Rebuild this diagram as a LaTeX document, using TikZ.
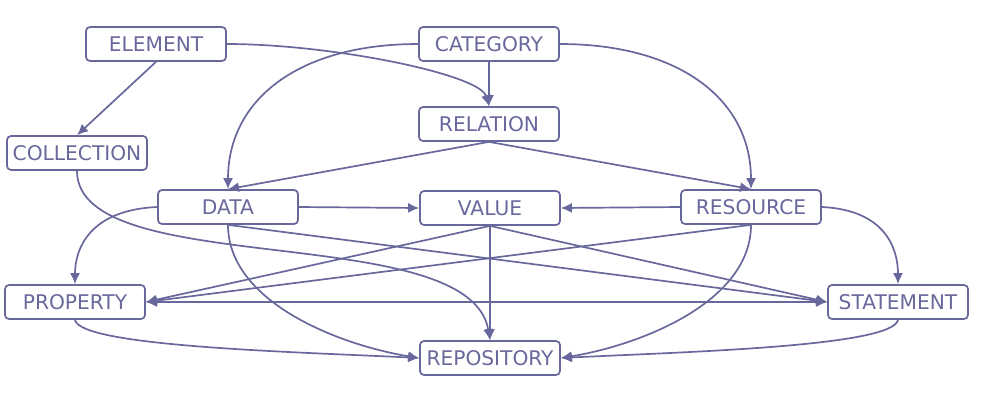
\documentclass[tikz,border=0pt]{standalone}
\usepackage{fontspec}
\setmainfont{DejaVu Sans}
\usetikzlibrary{arrows.meta}

\definecolor{slate}{RGB}{104,104,156}
\tikzstyle{term}=[draw=slate, text=slate, line width=1.7pt, rounded corners=4pt, minimum width=140pt, minimum height=34pt, inner sep=0pt, font=\fontsize{20.2}{23}\selectfont]
\tikzstyle{link}=[draw=slate, line width=1.7pt, ->]

\begin{document}
\begin{tikzpicture}[x=1pt, y=-1pt, >={Latex[length=11pt,width=10pt]}]

\useasboundingbox (0,0) rectangle (984,400);

\node[term] (element) at (156,44) {ELEMENT};
\node[term] (category) at (489,44) {CATEGORY};
\node[term] (relation) at (489,124) {RELATION};
\node[term] (collection) at (77,153) {COLLECTION};

\node[term] (data) at (228,207) {DATA};
\node[term] (value) at (490,208) {VALUE};
\node[term] (resource) at (751,207) {RESOURCE};

\node[term] (property) at (75,302) {PROPERTY};
\node[term] (statement) at (898,302) {STATEMENT};
\node[term] (repository) at (490,358) {REPOSITORY};

% top part
\draw[link] (element.south) -- (collection.north);
\draw[link] (element.east) .. controls +(104,0) and +(-9,-32) .. (relation.north);
\draw[link] (category.south) -- (relation.north);
\draw[link] (category.west) .. controls +(-119,0) and +(0,-90) .. (data.north);
\draw[link] (category.east) .. controls +(119,0) and +(0,-90) .. (resource.north);
\draw[link] (relation.south) -- (data.north);
\draw[link] (relation.south) -- (resource.north);

% middle row
\draw[link] (data.east) -- (value.west);
\draw[link] (resource.west) -- (value.east);
\draw[link] (data.west) .. controls +(-68,3) and +(0,-35) .. (property.north);
\draw[link] (resource.east) .. controls +(64,3) and +(0,-35) .. (statement.north);

% crossing lines
\draw[link] (data.south) -- (statement.west);
\draw[link] (value.south) -- (property.east);
\draw[link] (value.south) -- (statement.west);
\draw[link] (resource.south) -- (property.east);
\draw[link, <->] (property.east) -- (statement.west);

% into the repository
\draw[link] (collection.south) .. controls +(0,110) and +(-20,-121) .. (repository.north);
\draw[link] (value.south) -- (repository.north);
\draw[link] (data.south) .. controls +(0,77) and +(-80,-13) .. (repository.west);
\draw[link] (property.south) .. controls +(5,27) and +(-120,-6) .. (repository.west);
\draw[link] (resource.south) .. controls +(0,77) and +(80,-13) .. (repository.east);
\draw[link] (statement.south) .. controls +(-5,27) and +(120,-6) .. (repository.east);

\end{tikzpicture}
\end{document}
